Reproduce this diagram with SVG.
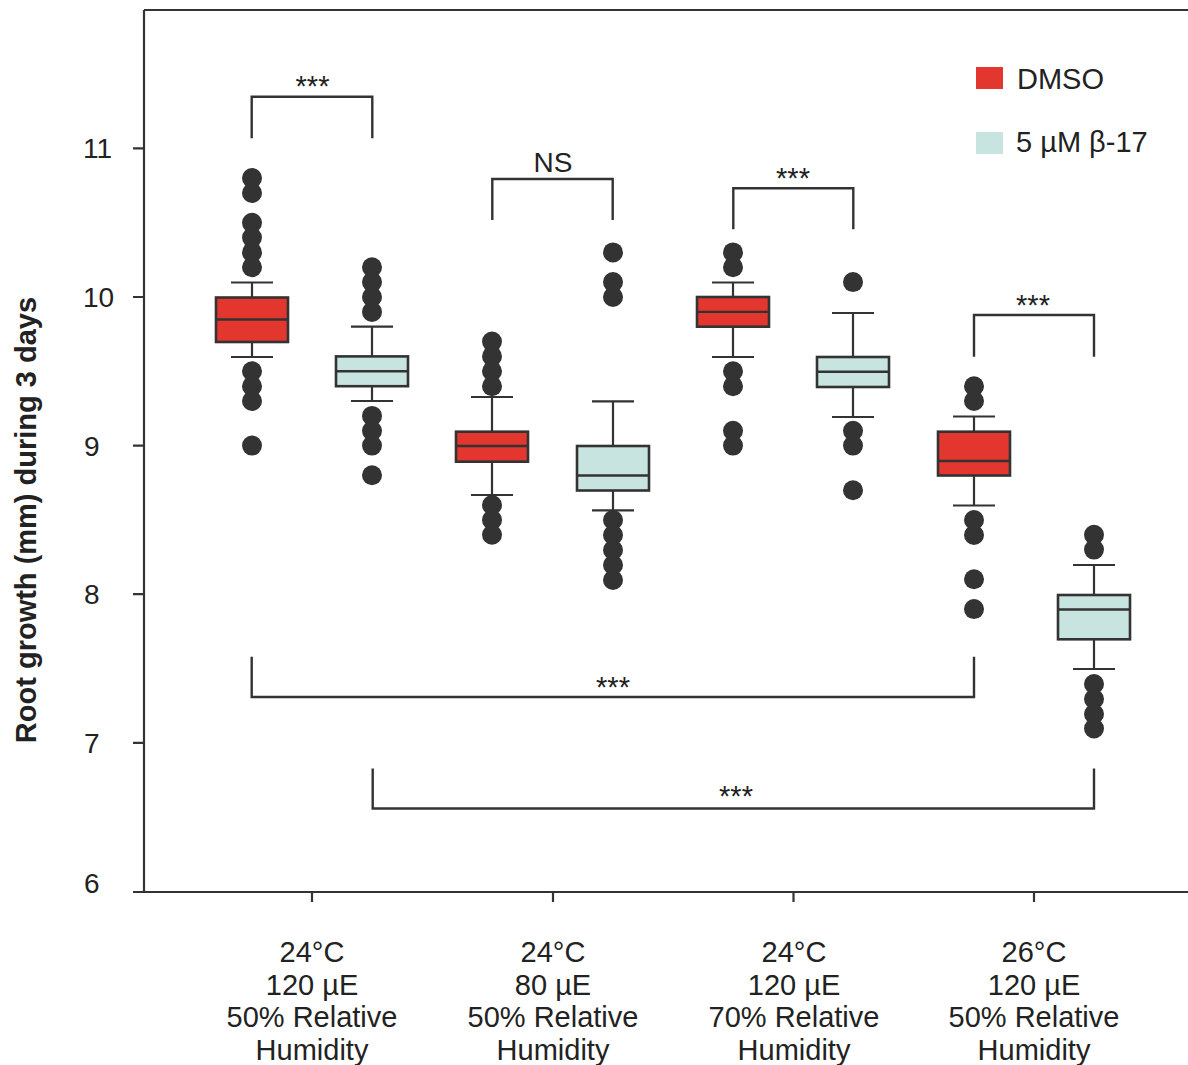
<svg xmlns="http://www.w3.org/2000/svg" width="1188" height="1065" viewBox="0 0 1188 1065">
<style>
text{font-family:"Liberation Sans",Arial,sans-serif;fill:#222;}
.ax{stroke:#333;stroke-width:2.2;fill:none;}
.lbl{font-size:29px;text-anchor:middle;}
.tk{font-size:28px;}
.st{font-size:29px;text-anchor:middle;}
.br{stroke:#333;stroke-width:2.4;fill:none;}
.wh{stroke:#333;stroke-width:2.2;fill:none;}
.bxr{fill:#E2362F;stroke:#333;stroke-width:2.6;}
.bxc{fill:#C7E4E0;stroke:#333;stroke-width:2.6;}
.md{stroke:#333;stroke-width:2.4;}
.dot{fill:#333;}
</style>
<rect width="1188" height="1065" fill="#fff"/>
<g id="axes">
<path class="ax" d="M144,10 V892 M144,10 H1188 M133,892 H1188"/>
<path class="ax" d="M133,148.4 H144 M133,297 H144 M133,445.6 H144 M133,594.2 H144 M133,742.8 H144"/>
<path class="ax" d="M312,892 V902 M553,892 V902 M793.5,892 V902 M1034,892 V902"/>
<text class="tk" x="83" y="158.4">11</text>
<text class="tk" x="83" y="307">10</text>
<text class="tk" x="84" y="455.6">9</text>
<text class="tk" x="84" y="604.2">8</text>
<text class="tk" x="84" y="752.8">7</text>
<text class="tk" x="84" y="893">6</text>
<text transform="translate(36,520) rotate(-90)" style="font-size:29px;font-weight:bold;text-anchor:middle">Root growth (mm) during 3 days</text>
</g>
<g id="xlabels">
<text class="lbl" x="312" y="962">24°C</text>
<text class="lbl" x="312" y="995">120 µE</text>
<text class="lbl" x="312" y="1027">50% Relative</text>
<text class="lbl" x="312" y="1060">Humidity</text>
<text class="lbl" x="553" y="962">24°C</text>
<text class="lbl" x="553" y="995">80 µE</text>
<text class="lbl" x="553" y="1027">50% Relative</text>
<text class="lbl" x="553" y="1060">Humidity</text>
<text class="lbl" x="794" y="962">24°C</text>
<text class="lbl" x="794" y="995">120 µE</text>
<text class="lbl" x="794" y="1027">70% Relative</text>
<text class="lbl" x="794" y="1060">Humidity</text>
<text class="lbl" x="1034" y="962">26°C</text>
<text class="lbl" x="1034" y="995">120 µE</text>
<text class="lbl" x="1034" y="1027">50% Relative</text>
<text class="lbl" x="1034" y="1060">Humidity</text>
</g>
<g id="legend">
<rect x="976" y="67" width="27" height="22" fill="#E2362F"/>
<text x="1017" y="88.5" style="font-size:29px">DMSO</text>
<rect x="976" y="132" width="27" height="22" fill="#C7E4E0"/>
<text x="1016" y="152" style="font-size:29px">5 µM β-17</text>
</g>
<g id="connectors">
<path class="br" d="M251.7,138.3 V96.7 H372.3 V138.3"/>
<path class="br" d="M492.3,220 V179 H612.7 V220"/>
<path class="br" d="M733.3,229.3 V188.3 H853.3 V229.3"/>
<path class="br" d="M974,356.7 V315 H1094 V356.7"/>
<path class="br" d="M251.7,656.7 V697 H974 V656.7"/>
<path class="br" d="M372.7,768.5 V808.5 H1094 V768.5"/>
<text class="st" x="312.5" y="96">***</text>
<text class="st" x="553" y="171.7" style="font-size:28px">NS</text>
<text class="st" x="793" y="188">***</text>
<text class="st" x="1033" y="315">***</text>
<text class="st" x="613" y="697">***</text>
<text class="st" x="736" y="806">***</text>
</g>
<g id="g1-dmso">
<path class="wh" d="M252,282.5 V357 M231,282.5 H273 M231,357 H273"/>
<rect class="bxr" x="216" y="297.5" width="72" height="44.5"/>
<line class="md" x1="216" y1="319.5" x2="288" y2="319.5"/>
<g class="dot"><circle cx="252" cy="178.1" r="10"/><circle cx="252" cy="193" r="10"/><circle cx="252" cy="222.7" r="10"/><circle cx="252" cy="237.6" r="10"/><circle cx="252" cy="252.4" r="10"/><circle cx="252" cy="267.3" r="10"/><circle cx="252" cy="371.3" r="10"/><circle cx="252" cy="386.2" r="10"/><circle cx="252" cy="401" r="10"/><circle cx="252" cy="445.6" r="10"/></g>
</g>
<g id="g1-b17">
<path class="wh" d="M372,326.7 V401 M351,326.7 H393 M351,401 H393"/>
<rect class="bxc" x="336" y="356.4" width="72" height="29.8"/>
<line class="md" x1="336" y1="371.3" x2="408" y2="371.3"/>
<g class="dot"><circle cx="372" cy="267.3" r="10"/><circle cx="372" cy="282.1" r="10"/><circle cx="372" cy="297" r="10"/><circle cx="372" cy="311.9" r="10"/><circle cx="372" cy="415.9" r="10"/><circle cx="372" cy="430.7" r="10"/><circle cx="372" cy="445.6" r="10"/><circle cx="372" cy="475.3" r="10"/></g>
</g>
<g id="g2-dmso">
<path class="wh" d="M492,397 V495 M471,397 H513 M471,495 H513"/>
<rect class="bxr" x="456" y="431.7" width="72" height="30"/>
<line class="md" x1="456" y1="446" x2="528" y2="446"/>
<g class="dot"><circle cx="492" cy="341.6" r="10"/><circle cx="492" cy="356.4" r="10"/><circle cx="492" cy="371.3" r="10"/><circle cx="492" cy="386.2" r="10"/><circle cx="492" cy="505" r="10"/><circle cx="492" cy="519.9" r="10"/><circle cx="492" cy="534.8" r="10"/></g>
</g>
<g id="g2-b17">
<path class="wh" d="M613,401.3 V510.3 M592,401.3 H634 M592,510.3 H634"/>
<rect class="bxc" x="577" y="446" width="72" height="44.5"/>
<line class="md" x1="577" y1="475.5" x2="649" y2="475.5"/>
<g class="dot"><circle cx="613" cy="252.4" r="10"/><circle cx="613" cy="282.1" r="10"/><circle cx="613" cy="297" r="10"/><circle cx="613" cy="520" r="10"/><circle cx="613" cy="535" r="10"/><circle cx="613" cy="550" r="10"/><circle cx="613" cy="565" r="10"/><circle cx="613" cy="580" r="10"/></g>
</g>
<g id="g3-dmso">
<path class="wh" d="M733,282.5 V357 M712,282.5 H754 M712,357 H754"/>
<rect class="bxr" x="697" y="297" width="72" height="29.7"/>
<line class="md" x1="697" y1="311.9" x2="769" y2="311.9"/>
<g class="dot"><circle cx="733" cy="252.4" r="10"/><circle cx="733" cy="267.3" r="10"/><circle cx="733" cy="371.3" r="10"/><circle cx="733" cy="386.2" r="10"/><circle cx="733" cy="430.7" r="10"/><circle cx="733" cy="445.6" r="10"/></g>
</g>
<g id="g3-b17">
<path class="wh" d="M853,313 V417 M832,313 H874 M832,417 H874"/>
<rect class="bxc" x="817" y="357" width="72" height="30"/>
<line class="md" x1="817" y1="371.7" x2="889" y2="371.7"/>
<g class="dot"><circle cx="853" cy="282.1" r="10"/><circle cx="853" cy="430.7" r="10"/><circle cx="853" cy="445.6" r="10"/><circle cx="853" cy="490.2" r="10"/></g>
</g>
<g id="g4-dmso">
<path class="wh" d="M974,416.5 V505.5 M953,416.5 H995 M953,505.5 H995"/>
<rect class="bxr" x="938" y="431.7" width="72" height="43.8"/>
<line class="md" x1="938" y1="461" x2="1010" y2="461"/>
<g class="dot"><circle cx="974" cy="386.2" r="10"/><circle cx="974" cy="401" r="10"/><circle cx="974" cy="520" r="10"/><circle cx="974" cy="535" r="10"/><circle cx="974" cy="579.3" r="10"/><circle cx="974" cy="609.1" r="10"/></g>
</g>
<g id="g4-b17">
<path class="wh" d="M1094,565 V669 M1073,565 H1115 M1073,669 H1115"/>
<rect class="bxc" x="1058" y="595" width="72" height="44.3"/>
<line class="md" x1="1058" y1="609.5" x2="1130" y2="609.5"/>
<g class="dot"><circle cx="1094" cy="534.8" r="10"/><circle cx="1094" cy="549.6" r="10"/><circle cx="1094" cy="684" r="10"/><circle cx="1094" cy="699" r="10"/><circle cx="1094" cy="714" r="10"/><circle cx="1094" cy="728.5" r="10"/></g>
</g>
</svg>
